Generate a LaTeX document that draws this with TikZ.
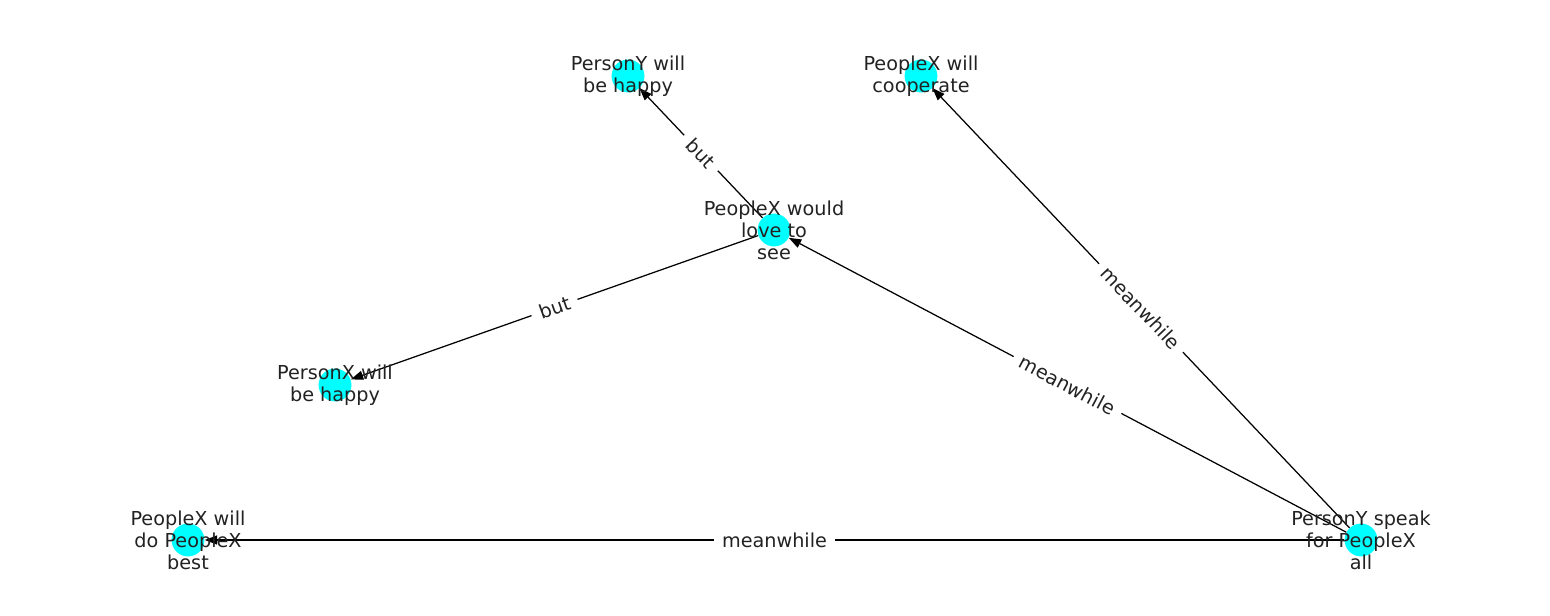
\documentclass[tikz,border=0pt]{standalone}
\usepackage{fontspec}
\setmainfont{DejaVu Sans}
\usetikzlibrary{arrows.meta}
\definecolor{nodecyan}{RGB}{0,255,255}
\definecolor{inkgray}{RGB}{34,34,34}
\tikzset{
    vertex/.style={
        circle,
        fill=nodecyan,
        minimum size=33pt*0.72,
        inner sep=0pt
    },
    caption/.style={
        align=center,
        inner sep=0pt,
        text=inkgray,
        font=\fontsize{13.9}{15.8}\selectfont
    },
    relation/.style={
        draw,
        line width=0.9pt,
        -{Triangle[length=9pt, width=6.5pt]}
    },
    tag/.style={
        midway,
        sloped,
        fill=white,
        inner xsep=6pt,
        inner ysep=3pt,
        text=inkgray,
        font=\fontsize{13.9}{15}\selectfont
    }
}

\begin{document}
\begin{tikzpicture}[x=0.0254cm, y=-0.0254cm]
    \useasboundingbox (0,0) rectangle (1550,616);
    % Vertices
    \node[vertex] (YH) at (628,76) {};
    \node[vertex] (XC) at (921,76) {};
    \node[vertex] (XS) at (774,230) {};
    \node[vertex] (XH) at (335,385) {};
    \node[vertex] (XB) at (188,540) {};
    \node[vertex] (YS) at (1361,540) {};

    % Edges
    \draw[relation] (XS) -- (YH) node[tag] {but};
    \draw[relation] (XS) -- (XH) node[tag] {but};
    \draw[relation] (YS) -- (XS) node[tag] {meanwhile};
    \draw[relation] (YS) -- (XC) node[tag] {meanwhile};
    \draw[relation] (YS) -- (XB) node[tag] {meanwhile};

    % Labels
    \node[caption] (YHtext) at (YH) {PersonY will\\be happy};
    \node[caption] (XCtext) at (XC) {PeopleX will\\cooperate};
    \node[caption] (XStext) at (XS) {PeopleX would\\love to\\see};
    \node[caption] (XHtext) at (XH) {PersonX will\\be happy};
    \node[caption] (XBtext) at (XB) {PeopleX will\\do PeopleX\\best};
    \node[caption] (YStext) at (YS) {PersonY speak\\for PeopleX\\all};
\end{tikzpicture}
\end{document}
